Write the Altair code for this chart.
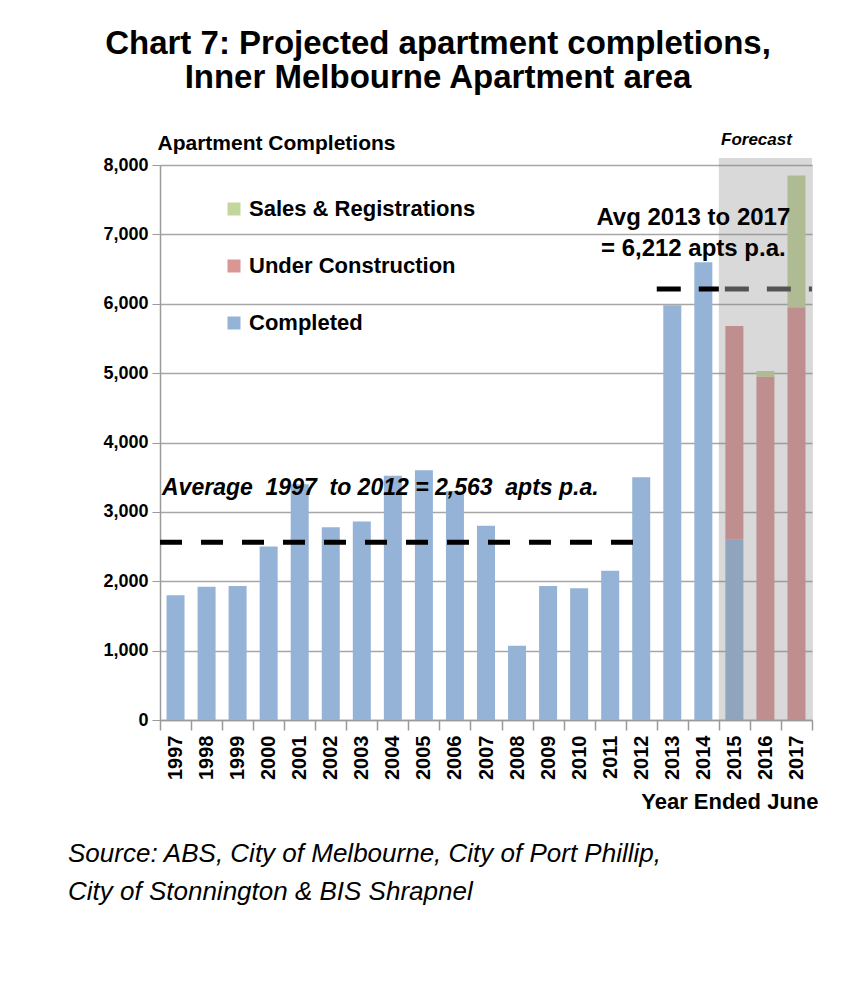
import altair as alt
import pandas as pd

# ---------------- data ----------------
years = ['1997', '1998', '1999', '2000', '2001', '2002', '2003', '2004', '2005', '2006', '2007',
         '2008', '2009', '2010', '2011', '2012', '2013', '2014', '2015', '2016', '2017']
completed = [1800, 1920, 1930, 2500, 3400, 2780, 2860, 3520, 3600, 3300, 2800,
             1070, 1930, 1900, 2150, 3500, 5980, 6600, 2600, 0, 0]
under_construction = [0, 0, 0, 0, 0, 0, 0, 0, 0, 0, 0,
                      0, 0, 0, 0, 0, 0, 0, 3080, 4950, 5950]
sales_registrations = [0, 0, 0, 0, 0, 0, 0, 0, 0, 0, 0,
                       0, 0, 0, 0, 0, 0, 0, 0, 80, 1900]
series_names = ['Sales & Registrations', 'Under Construction', 'Completed']
series_colors = ['#c3d69b', '#d99694', '#95b3d7']
y_ticks = [0, 1000, 2000, 3000, 4000, 5000, 6000, 7000, 8000]
avg_early = 2563
avg_late = 6212
avg_early_label = 'Average\u00a0\u00a01997\u00a0\u00a0to 2012 = 2,563\u00a0\u00a0apts p.a.'
avg_late_label = ['Avg 2013 to 2017', '= 6,212 apts p.a.']
forecast_label = 'Forecast'
title_lines = ['Chart 7: Projected apartment completions,', 'Inner Melbourne Apartment area']
source_lines = ['Source: ABS, City of Melbourne, City of Port Phillip,',
                'City of Stonnington & BIS Shrapnel']

rows = []
for i, yr in enumerate(years):
    for name, vals, order in [('Completed', completed, 0),
                              ('Under Construction', under_construction, 1),
                              ('Sales & Registrations', sales_registrations, 2)]:
        if vals[i] > 0:
            rows.append({'year': yr, 'series': name, 'value': vals[i], 'order': order})
bars_df = pd.DataFrame(rows)

FONT = 'Liberation Sans'

xscale = alt.Scale(domain=years, paddingInner=0, paddingOuter=0)
yscale = alt.Scale(domain=[0, 8000], nice=False)

bars = alt.Chart(bars_df).mark_bar(width=alt.RelativeBandSize(0.58)).encode(
    x=alt.X('year:N', scale=xscale, sort=years, axis=alt.Axis(
        labelAngle=270, labelFont=FONT, labelFontSize=20, labelFontWeight='bold',
        labelColor='black', labelPadding=5, tickSize=10, tickColor='#9a9a9a',
        domainColor='#9a9a9a', domainWidth=1.5, tickWidth=1.5, tickBand='extent',
        title='Year Ended June', titleX=658, titleY=88, titleAlign='right',
        titleBaseline='alphabetic', titleFont=FONT, titleFontSize=22,
        titleFontWeight='bold', titleColor='black')),
    y=alt.Y('value:Q', scale=yscale, stack='zero', axis=alt.Axis(
        values=y_ticks, format=',d', labelFont=FONT, labelFontSize=18,
        labelFontWeight='bold', labelColor='black', labelPadding=4, tickSize=8,
        tickColor='#9a9a9a', domainColor='#9a9a9a', domainWidth=1.5,
        gridColor='#a6a6a6', gridWidth=1.5,
        title='Apartment Completions', titleX=-3, titleY=-16, titleAngle=0,
        titleAlign='left', titleBaseline='alphabetic', titleFont=FONT,
        titleFontSize=21, titleFontWeight='bold', titleColor='black')),
    color=alt.Color('series:N', scale=alt.Scale(domain=series_names, range=series_colors),
                    legend=alt.Legend(orient='none', legendX=63, legendY=33, title=None,
                                      symbolType='square', symbolSize=169,
                                      symbolStrokeWidth=0, symbolOpacity=1,
                                      labelFont=FONT, labelFontSize=22, labelLimit=400,
                                      labelFontWeight='bold', labelColor='black',
                                      rowPadding=35, padding=0, labelOffset=4)),
    order=alt.Order('order:Q', sort='ascending'),
)

early_df = pd.DataFrame({'year': ['1997'], 'year_end': ['2012'], 'value': [avg_early]})
early_rule = alt.Chart(early_df).mark_rule(color='black', strokeWidth=5, strokeDash=[22, 19]).encode(
    x=alt.X('year:N', bandPosition=0),
    x2=alt.X2('year_end', bandPosition=0.5),
    y='value:Q',
)

late_df1 = pd.DataFrame({'year': ['2013'], 'year_end': ['2015'], 'value': [avg_late]})
late_rule1 = alt.Chart(late_df1).mark_rule(color='black', strokeWidth=5, strokeDash=[24, 18]).encode(
    x=alt.X('year:N', bandPosition=0),
    x2=alt.X2('year_end', bandPosition=0),
    y='value:Q',
)
late_df2 = pd.DataFrame({'year': ['2015'], 'year_end': ['2017'], 'value': [avg_late]})
late_rule2 = alt.Chart(late_df2).mark_rule(color='#404040', strokeWidth=5, strokeDash=[24, 18],
                                            strokeDashOffset=-6).encode(
    x=alt.X('year:N', bandPosition=0),
    x2=alt.X2('year_end', bandPosition=1),
    y='value:Q',
)

shade_df = pd.DataFrame({'year': ['2015'], 'year_end': ['2017'], 'value': [0], 'value_end': [8100]})
shade = alt.Chart(shade_df).mark_rect(color='#808080', opacity=0.3).encode(
    x=alt.X('year:N', bandPosition=0),
    x2=alt.X2('year_end', bandPosition=1),
    y='value:Q',
    y2='value_end:Q',
)

early_txt_df = pd.DataFrame({'year': ['1997'], 'value': [3240], 'label': [avg_early_label]})
early_txt = alt.Chart(early_txt_df).mark_text(
    align='left', baseline='alphabetic', font=FONT, fontSize=23, fontStyle='italic',
    fontWeight='bold', color='black', dx=2).encode(
    x=alt.X('year:N', bandPosition=0),
    y='value:Q',
    text='label:N',
)

late_txt_df = pd.DataFrame({'year': ['2014', '2014'], 'value': [7140, 6690], 'label': avg_late_label})
late_txt = alt.Chart(late_txt_df).mark_text(
    align='center', baseline='alphabetic', font=FONT, fontSize=24,
    fontWeight='bold', color='black', dx=-10).encode(
    x='year:N',
    y='value:Q',
    text='label:N',
)

fc_df = pd.DataFrame({'year': ['2016'], 'value': [8290], 'label': [forecast_label]})
fc_txt = alt.Chart(fc_df).mark_text(
    align='center', baseline='alphabetic', font=FONT, fontSize=17, fontStyle='italic',
    fontWeight='bold', color='black', dx=-9).encode(
    x='year:N',
    y='value:Q',
    text='label:N',
)

src1 = alt.Chart(pd.DataFrame({'label': [source_lines[0]]})).mark_text(
    align='left', baseline='alphabetic', font=FONT, fontSize=26, fontStyle='italic',
    color='black').encode(x=alt.value(-92), y=alt.value(697), text='label:N')
src2 = alt.Chart(pd.DataFrame({'label': [source_lines[1]]})).mark_text(
    align='left', baseline='alphabetic', font=FONT, fontSize=26, fontStyle='italic',
    color='black').encode(x=alt.value(-92), y=alt.value(735), text='label:N')

chart = alt.layer(
    bars, early_rule, late_rule1, late_rule2, shade, early_txt, late_txt, fc_txt, src1, src2
).properties(
    width=652, height=555,
    title=alt.TitleParams(text=title_lines, font=FONT, fontSize=33, fontWeight='bold',
                          color='black', anchor='middle', dx=-48, offset=36,
                          lineHeight=34, frame='group'),
    autosize=alt.AutoSizeParams(type='none'),
    padding={'left': 152, 'top': 157, 'right': 40, 'bottom': 259},
).configure_view(strokeWidth=0).configure(background='white')

chart.save('out.html', embed_options={'renderer': 'svg', 'actions': False})
